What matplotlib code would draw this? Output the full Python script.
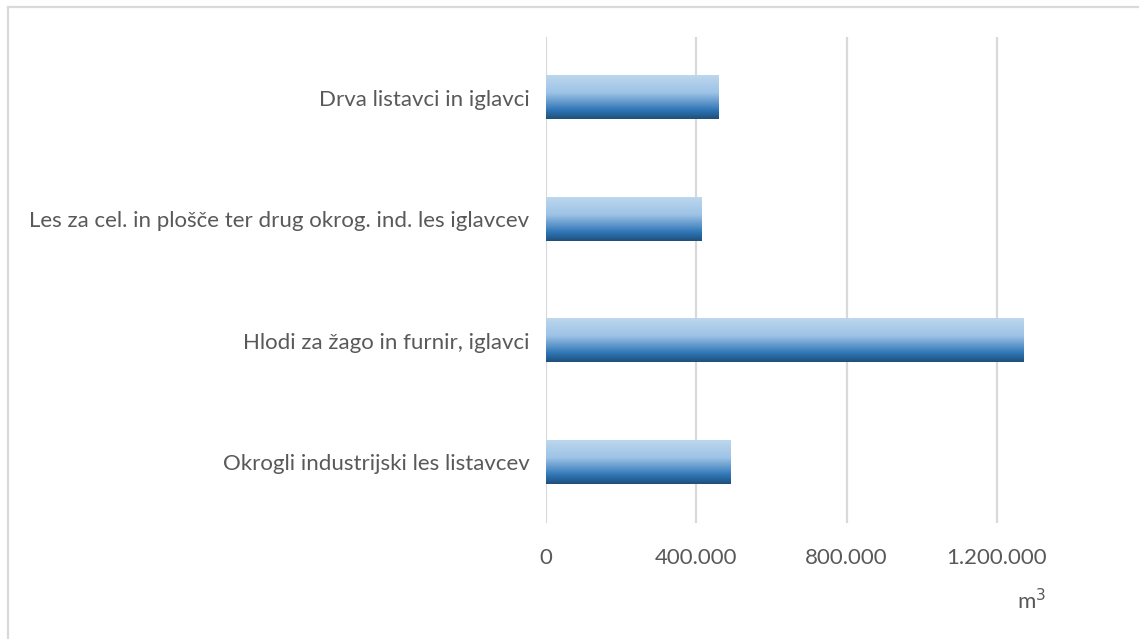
import numpy as np
import matplotlib.pyplot as plt
from matplotlib.colors import LinearSegmentedColormap
from matplotlib.lines import Line2D
from matplotlib.ticker import FuncFormatter

# Posek po sortimentih (m3), od spodaj navzgor
kategorije = ['Okrogli industrijski les listavcev',
              'Hlodi za žago in furnir, iglavci',
              'Les za cel. in plošče ter drug okrog. ind. les iglavcev',
              'Drva listavci in iglavci']
kolicine = [491000, 1271000, 415000, 460000]
x_ticki = [0, 400000, 800000, 1200000]

plt.rcParams['font.family'] = ['Lato', 'DejaVu Sans']

fig = plt.figure(figsize=(11.39, 6.39), dpi=100)
ax = fig.add_axes([0.4794, 0.1815, 0.4782, 0.7605])

y = np.arange(len(kategorije))
bars = ax.barh(y, kolicine, height=0.354, color='none', zorder=3)

# gradient od svetle (zgoraj) do temno modre (spodaj)
cmap = LinearSegmentedColormap.from_list(
    'modra', [(0.0, '#1F4E79'), (0.2, '#2E75B6'), (0.6, '#9DC3E6'), (1.0, '#BDD7EE')])
grad = np.linspace(0, 1, 256).reshape(-1, 1)
for b in bars:
    x0, y0 = b.get_x(), b.get_y()
    ax.imshow(grad, cmap=cmap, aspect='auto', origin='lower', zorder=3,
              extent=[x0, x0 + b.get_width(), y0, y0 + b.get_height()])

ax.set_xlim(0, 1450000)
ax.set_ylim(-0.5, len(kategorije) - 0.5)
ax.set_xticks(x_ticki)
ax.xaxis.set_major_formatter(FuncFormatter(lambda v, p: f'{int(v):,}'.replace(',', '.')))
ax.set_yticks(y)
ax.set_yticklabels(kategorije)
ax.grid(axis='x', color='#D9D9D9', linewidth=1.6, zorder=0)
ax.set_axisbelow(True)
for s in ax.spines.values():
    s.set_visible(False)
ax.tick_params(axis='both', length=0, colors='#595959', labelsize=16)
ax.tick_params(axis='x', pad=18)
ax.tick_params(axis='y', pad=12)

fig.text(1017 / 1139, 1 - 613 / 639, 'm$^3$', color='#595959', fontsize=16,
         ha='left', va='bottom')

# okvir grafikona
fig.add_artist(Line2D([8 / 1139, 8 / 1139], [0, 1 - 7 / 639], color='#D9D9D9', linewidth=1.6))
fig.add_artist(Line2D([8 / 1139, 1], [1 - 7 / 639, 1 - 7 / 639], color='#D9D9D9', linewidth=1.6))

fig.savefig('out.png', dpi=100, facecolor='white')
